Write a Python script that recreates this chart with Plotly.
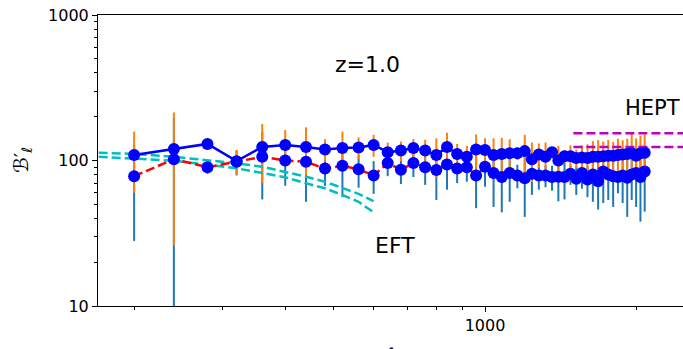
import plotly.graph_objects as go

# multipole bins
ell = [200, 240, 280, 320, 360, 400, 440, 480, 520, 560, 600, 640,
       680, 720, 760, 800, 840, 880, 920, 960, 1000, 1040, 1080, 1120,
       1160, 1200, 1240, 1280, 1320, 1360, 1400, 1440, 1480, 1520, 1560, 1600,
       1640, 1680, 1720, 1760, 1800, 1840, 1880, 1920, 1960, 2000, 2040, 2080]

# upper series (blue solid, orange error bars)
b_upper = [109, 120, 130, 99, 124, 128, 124, 119, 122, 123, 128, 114,
           117, 122, 117, 109, 124, 111, 106, 119, 118, 109, 111, 112,
           112, 116, 102, 110, 106, 114, 100, 107, 107, 104, 105, 104,
           106, 106, 107, 108, 108, 109, 110, 111, 112, 108, 112, 113]
e_upper = [49, 94, 8, 19, 54, 34, 45, 21, 36, 21, 22, 19,
           18, 18.5, 22, 33, 31, 19, 20, 32, 24, 33, 32, 28,
           11, 34, 31, 21, 27, 7, 26, 11, 20, 15, 22, 25,
           30, 32, 28, 30, 26, 32, 28, 30, 40, 34, 36, 38]

# lower series (red dashed, steel-blue error bars)
b_lower = [78, 102, 90, 98, 106, 100, 98, 88, 92, 87, 79, 96,
           86.5, 96, 90, 86, 94, 88, 90, 79, 90.6, 82, 77, 82,
           79, 75.5, 81, 79, 79, 77, 77.4, 77, 81, 75, 82, 74,
           80, 72, 84, 80, 78, 77, 79, 76, 80, 82, 77, 84]
e_lower = [50, 94, 9, 19, 52, 33, 46, 21, 36, 22, 20, 18,
           17.5, 19, 22, 32.5, 31, 18, 18.5, 32, 24.5, 34, 33, 30,
           14.6, 34.5, 23, 16, 13.5, 15, 25, 23, 13, 17, 18, 18,
           28, 26, 33, 26.5, 30, 17.5, 28, 35, 26.5, 34, 39, 39.5]

# EFT predictions
eft_ell = [170, 200, 240, 320, 360, 400, 440, 480, 520, 560, 600]
eft_a = [113, 111, 106, 95.7, 90.6, 83.7, 77.4, 71.5, 64.4, 59, 52.5]
eft_b = [106, 103.5, 99.7, 88.4, 82.4, 76.7, 69.7, 64.4, 57.9, 52, 44]

# HEPT levels
hept_ell = [1500, 2700]
hept_a = [154, 154]
hept_b = [124, 124]

x_major = [1000]
x_major_text = ["1000"]
x_minor = [200, 300, 400, 500, 600, 700, 800, 900, 2000]
y_major = [10, 100, 1000]
y_major_text = ["10", "100", "1000"]
y_minor = [20, 30, 40, 50, 60, 70, 80, 90, 200, 300, 400, 500, 600, 700, 800, 900]

FONT = "DejaVu Sans"

fig = go.Figure()

# error bars
fig.add_trace(go.Scatter(x=ell, y=b_lower, mode="lines", line=dict(width=0),
                         error_y=dict(type="data", array=e_lower, symmetric=True,
                                      color="#1f77b4", thickness=2, width=0),
                         hoverinfo="skip", showlegend=False))
fig.add_trace(go.Scatter(x=ell, y=b_upper, mode="lines", line=dict(width=0),
                         error_y=dict(type="data", array=e_upper, symmetric=True,
                                      color="#ff7f0e", thickness=2, width=0),
                         hoverinfo="skip", showlegend=False))

# EFT
for yy in (eft_a, eft_b):
    fig.add_trace(go.Scatter(x=eft_ell, y=yy, mode="lines",
                             line=dict(color="#00bfbf", width=2.5, dash="9px,4px"),
                             showlegend=False))
# HEPT
for yy in (hept_a, hept_b):
    fig.add_trace(go.Scatter(x=hept_ell, y=yy, mode="lines",
                             line=dict(color="#bf00bf", width=2.5, dash="9px,4px"),
                             showlegend=False))

# data lines with markers
fig.add_trace(go.Scatter(x=ell, y=b_lower, mode="lines+markers",
                         line=dict(color="#ff0000", width=2.5, dash="9px,4px"),
                         marker=dict(color="#0000ff", size=12),
                         showlegend=False))
fig.add_trace(go.Scatter(x=ell, y=b_upper, mode="lines+markers",
                         line=dict(color="#0000ff", width=2.5),
                         marker=dict(color="#0000ff", size=12),
                         showlegend=False))

fig.update_layout(
    width=683, height=349,
    margin=dict(l=98, r=0, t=15, b=43),
    paper_bgcolor="white", plot_bgcolor="white",
    font=dict(family=FONT, size=16, color="black"),
    showlegend=False,
    xaxis=dict(type="log", range=[2.2291, 3.3944],
               tickmode="array", tickvals=x_major, ticktext=x_major_text,
               ticks="outside", ticklen=5, tickwidth=1, tickcolor="black",
               showline=True, linecolor="black", linewidth=1, mirror=True,
               showgrid=False, zeroline=False,
               tickfont=dict(family=FONT, size=16, color="black"),
               minor=dict(tickmode="array", tickvals=x_minor, ticks="outside",
                          ticklen=3, tickwidth=1, tickcolor="black", showgrid=False)),
    yaxis=dict(type="log", range=[1, 3],
               tickmode="array", tickvals=y_major, ticktext=y_major_text,
               ticks="outside", ticklen=5, tickwidth=1, tickcolor="black",
               showline=True, linecolor="black", linewidth=1, mirror=False,
               showgrid=False, zeroline=False,
               tickfont=dict(family=FONT, size=16, color="black"),
               minor=dict(tickmode="array", tickvals=y_minor, ticks="outside",
                          ticklen=3, tickwidth=1, tickcolor="black", showgrid=False)),
    annotations=[
        dict(text="z=1.0", x=0.4607, y=0.8299, xref="paper", yref="paper",
             showarrow=False, xanchor="center", yanchor="middle",
             font=dict(family=FONT, size=22, color="black")),
        dict(text="EFT", x=0.5077, y=0.2086, xref="paper", yref="paper",
             showarrow=False, xanchor="center", yanchor="middle",
             font=dict(family=FONT, size=22, color="black")),
        dict(text="HEPT", x=0.897, y=0.681, xref="paper", yref="paper",
             showarrow=False, xanchor="left", yanchor="middle",
             font=dict(family=FONT, size=21, color="black")),
        dict(text="ℬ′<sub>ℓ</sub>", x=-0.13, y=0.5017, xref="paper", yref="paper",
             showarrow=False, xanchor="center", yanchor="middle", textangle=-90,
             font=dict(family=FONT, size=20, color="black")),
        dict(text="<i>ℓ</i>", x=0.499, y=-0.12, xref="paper", yref="paper",
             showarrow=False, xanchor="center", yanchor="top",
             font=dict(family=FONT, size=20, color="black")),
    ],
)

fig.write_html("out.html",
               config={"displayModeBar": False},
               post_script="document.body.style.margin='0';document.body.style.overflow='hidden';")
